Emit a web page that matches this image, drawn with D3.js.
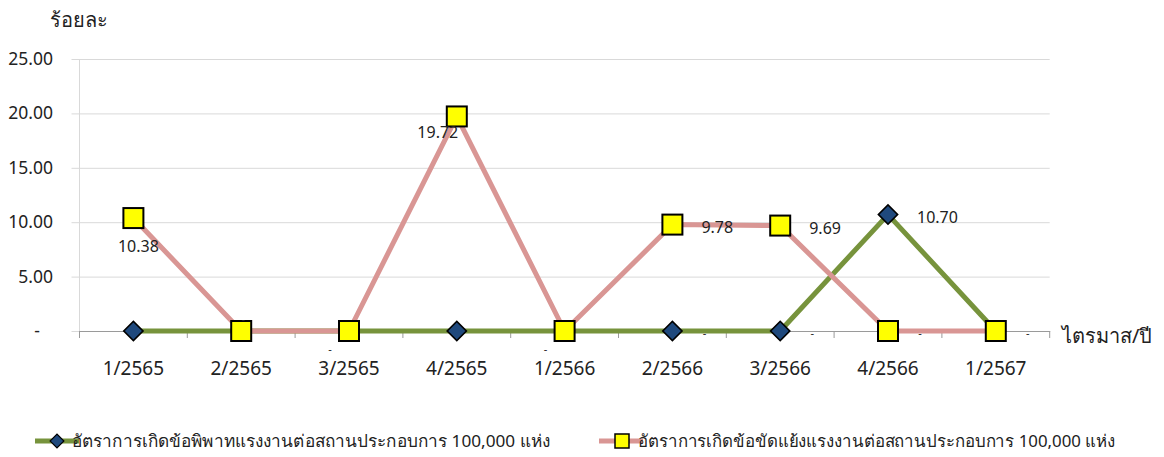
<!DOCTYPE html>
<html>
<head>
<meta charset="utf-8">
<script src="https://cdn.jsdelivr.net/npm/d3@7/dist/d3.min.js"></script>
<style>
  html, body { margin: 0; padding: 0; background: #fff; }
  svg { display: block; font-family: Tahoma, "Noto Sans", "DejaVu Sans", sans-serif; }
</style>
</head>
<body>
<svg id="chart" width="1164" height="457"></svg>
<script>
// ---- data ----
const categories = ["1/2565", "2/2565", "3/2565", "4/2565", "1/2566", "2/2566", "3/2566", "4/2566", "1/2567"];
const disputeRate = [0, 0, 0, 0, 0, 0, 0, 10.70, 0];
const conflictRate = [10.38, 0, 0, 19.72, 0, 9.78, 9.69, 0, 0];
const yTicks = [0, 5, 10, 15, 20, 25];
const seriesNames = [
  "อัตราการเกิดข้อพิพาทแรงงานต่อสถานประกอบการ  100,000  แห่ง",
  "อัตราการเกิดข้อขัดแย้งแรงงานต่อสถานประกอบการ  100,000  แห่ง"
];
const yTitle = "ร้อยละ";
const xTitle = "ไตรมาส/ปี";

// ---- layout ----
const svg = d3.select("#chart");
const plot = { left: 79.5, right: 1049.7, top: 59, bottom: 331 };
const x = d3.scaleBand().domain(categories).range([plot.left, plot.right]).padding(0);
const y = d3.scaleLinear().domain([0, 25]).range([plot.bottom, plot.top]);
const cx = c => x(c) + x.bandwidth() / 2;
const fmt = v => v === 0 ? "-" : d3.format(".2f")(v);

const colors = { dispute: "#77933C", conflict: "#D99694", diamond: "#1F497D", square: "#FFFF00" };

// gridlines
const yAxis = d3.axisLeft(y).tickValues(yTicks).tickSize(-(plot.right - plot.left)).tickFormat("");
const gy = svg.append("g").attr("transform", `translate(${plot.left},0)`).call(yAxis);
gy.select(".domain").remove();
gy.selectAll(".tick line").attr("stroke", "#D9D9D9").attr("stroke-width", 1)
  .attr("x1", -8);
// y labels
svg.append("g").selectAll("text").data(yTicks).join("text")
  .attr("x", d => d === 0 ? 37 : 53)
  .attr("y", d => y(d) + 6)
  .attr("text-anchor", d => d === 0 ? "middle" : "end")
  .attr("font-size", 17.5).attr("fill", "#222")
  .text(d => d === 0 ? "-" : d3.format(".2f")(d));

// y axis line
svg.append("line").attr("x1", plot.left).attr("x2", plot.left)
  .attr("y1", plot.top).attr("y2", plot.bottom).attr("stroke", "#D9D9D9");

// x axis
const xAxis = d3.axisBottom(x).tickSize(0).tickFormat("");
const gx = svg.append("g").attr("transform", `translate(0,${plot.bottom})`).call(xAxis);
gx.select(".domain").attr("stroke", "#9A9A9A");
gx.selectAll(".tick").remove();
// category boundary ticks
const bounds = categories.map(c => x(c)).concat([plot.right]);
svg.append("g").selectAll("line").data(bounds).join("line")
  .attr("x1", d => d).attr("x2", d => d)
  .attr("y1", plot.bottom).attr("y2", plot.bottom + 7)
  .attr("stroke", "#9A9A9A");
// x labels
svg.append("g").selectAll("text").data(categories).join("text")
  .attr("x", d => cx(d)).attr("y", 375)
  .attr("text-anchor", "middle").attr("font-size", 19).attr("fill", "#222")
  .text(d => d);

// lines
const line = d3.line().x((d, i) => cx(categories[i])).y(d => y(d));
svg.append("path").datum(disputeRate).attr("d", line)
  .attr("fill", "none").attr("stroke", colors.dispute).attr("stroke-width", 5)
  .attr("stroke-linejoin", "round");
svg.append("path").datum(conflictRate).attr("d", line)
  .attr("fill", "none").attr("stroke", colors.conflict).attr("stroke-width", 5)
  .attr("stroke-linejoin", "round");

// markers
const diamond = d3.symbol().type(d3.symbolSquare).size(185);
svg.append("g").selectAll("path").data(disputeRate).join("path")
  .attr("d", diamond())
  .attr("transform", (d, i) => `translate(${cx(categories[i])},${y(d)}) rotate(45)`)
  .attr("fill", colors.diamond).attr("stroke", "#000").attr("stroke-width", 1.6);
svg.append("g").selectAll("rect").data(conflictRate).join("rect")
  .attr("x", (d, i) => cx(categories[i]) - 10)
  .attr("y", d => y(d) - 10)
  .attr("width", 20).attr("height", 20)
  .attr("fill", colors.square).attr("stroke", "#000").attr("stroke-width", 2);

// data labels (placement per point)
const disputePlace = [null, null, null, null, null, "right", "right", "right", "right"];
const conflictPlace = ["below", "above", "belowDash", "belowDash", "belowDash", "right", "right", "right", null];
function placeLabel(v, i, p) {
  const px = cx(categories[i]), py = y(v);
  if (p === "right") return v === 0 ? [px + 32, py + 6, "middle"] : [px + 29, py + 8, "start"];
  if (p === "below") return [px + 5, py + 34, "middle"];
  if (p === "above") return [px + 2, py - 8, "middle"];
  if (p === "belowDash") return [px - 19, py + 22, "middle"];
  return null;
}
const labels = [];
disputeRate.forEach((v, i) => { if (disputePlace[i]) labels.push({ v, i, p: disputePlace[i] }); });
conflictRate.forEach((v, i) => { if (conflictPlace[i]) labels.push({ v, i, p: conflictPlace[i] }); });
svg.append("g").selectAll("text").data(labels).join("text")
  .attr("x", d => placeLabel(d.v, d.i, d.p)[0])
  .attr("y", d => placeLabel(d.v, d.i, d.p)[1])
  .attr("text-anchor", d => placeLabel(d.v, d.i, d.p)[2])
  .attr("font-size", d => d.v === 0 ? 11 : 16).attr("fill", "#222")
  .text(d => fmt(d.v));

// axis titles
svg.append("text").attr("x", 50).attr("y", 27).attr("font-size", 20).attr("fill", "#222").text(yTitle);
svg.append("text").attr("x", 1062).attr("y", 343).attr("font-size", 20).attr("fill", "#222").text(xTitle);

// legend
const legend = [
  { name: seriesNames[0], color: colors.dispute, marker: "diamond", x0: 35, tx: 37, tl: 478 },
  { name: seriesNames[1], color: colors.conflict, marker: "square", x0: 599, tx: 39, tl: 477 }
];
const lg = svg.append("g").selectAll("g").data(legend).join("g")
  .attr("transform", d => `translate(${d.x0},441)`);
lg.append("line").attr("x1", 0).attr("x2", 44).attr("y1", 0).attr("y2", 0)
  .attr("stroke", d => d.color).attr("stroke-width", 5);
lg.filter(d => d.marker === "diamond").append("path")
  .attr("d", d3.symbol().type(d3.symbolSquare).size(95)())
  .attr("transform", "translate(22,0) rotate(45)")
  .attr("fill", colors.diamond).attr("stroke", "#000").attr("stroke-width", 1.2);
lg.filter(d => d.marker === "square").append("rect")
  .attr("x", 16).attr("y", -7).attr("width", 14).attr("height", 14)
  .attr("fill", colors.square).attr("stroke", "#000").attr("stroke-width", 1.5);
lg.append("text").attr("x", d => d.tx).attr("y", 6)
  .attr("font-size", 17).attr("fill", "#222")
  .attr("textLength", d => d.tl).attr("lengthAdjust", "spacingAndGlyphs")
  .text(d => d.name);
</script>
</body>
</html>
